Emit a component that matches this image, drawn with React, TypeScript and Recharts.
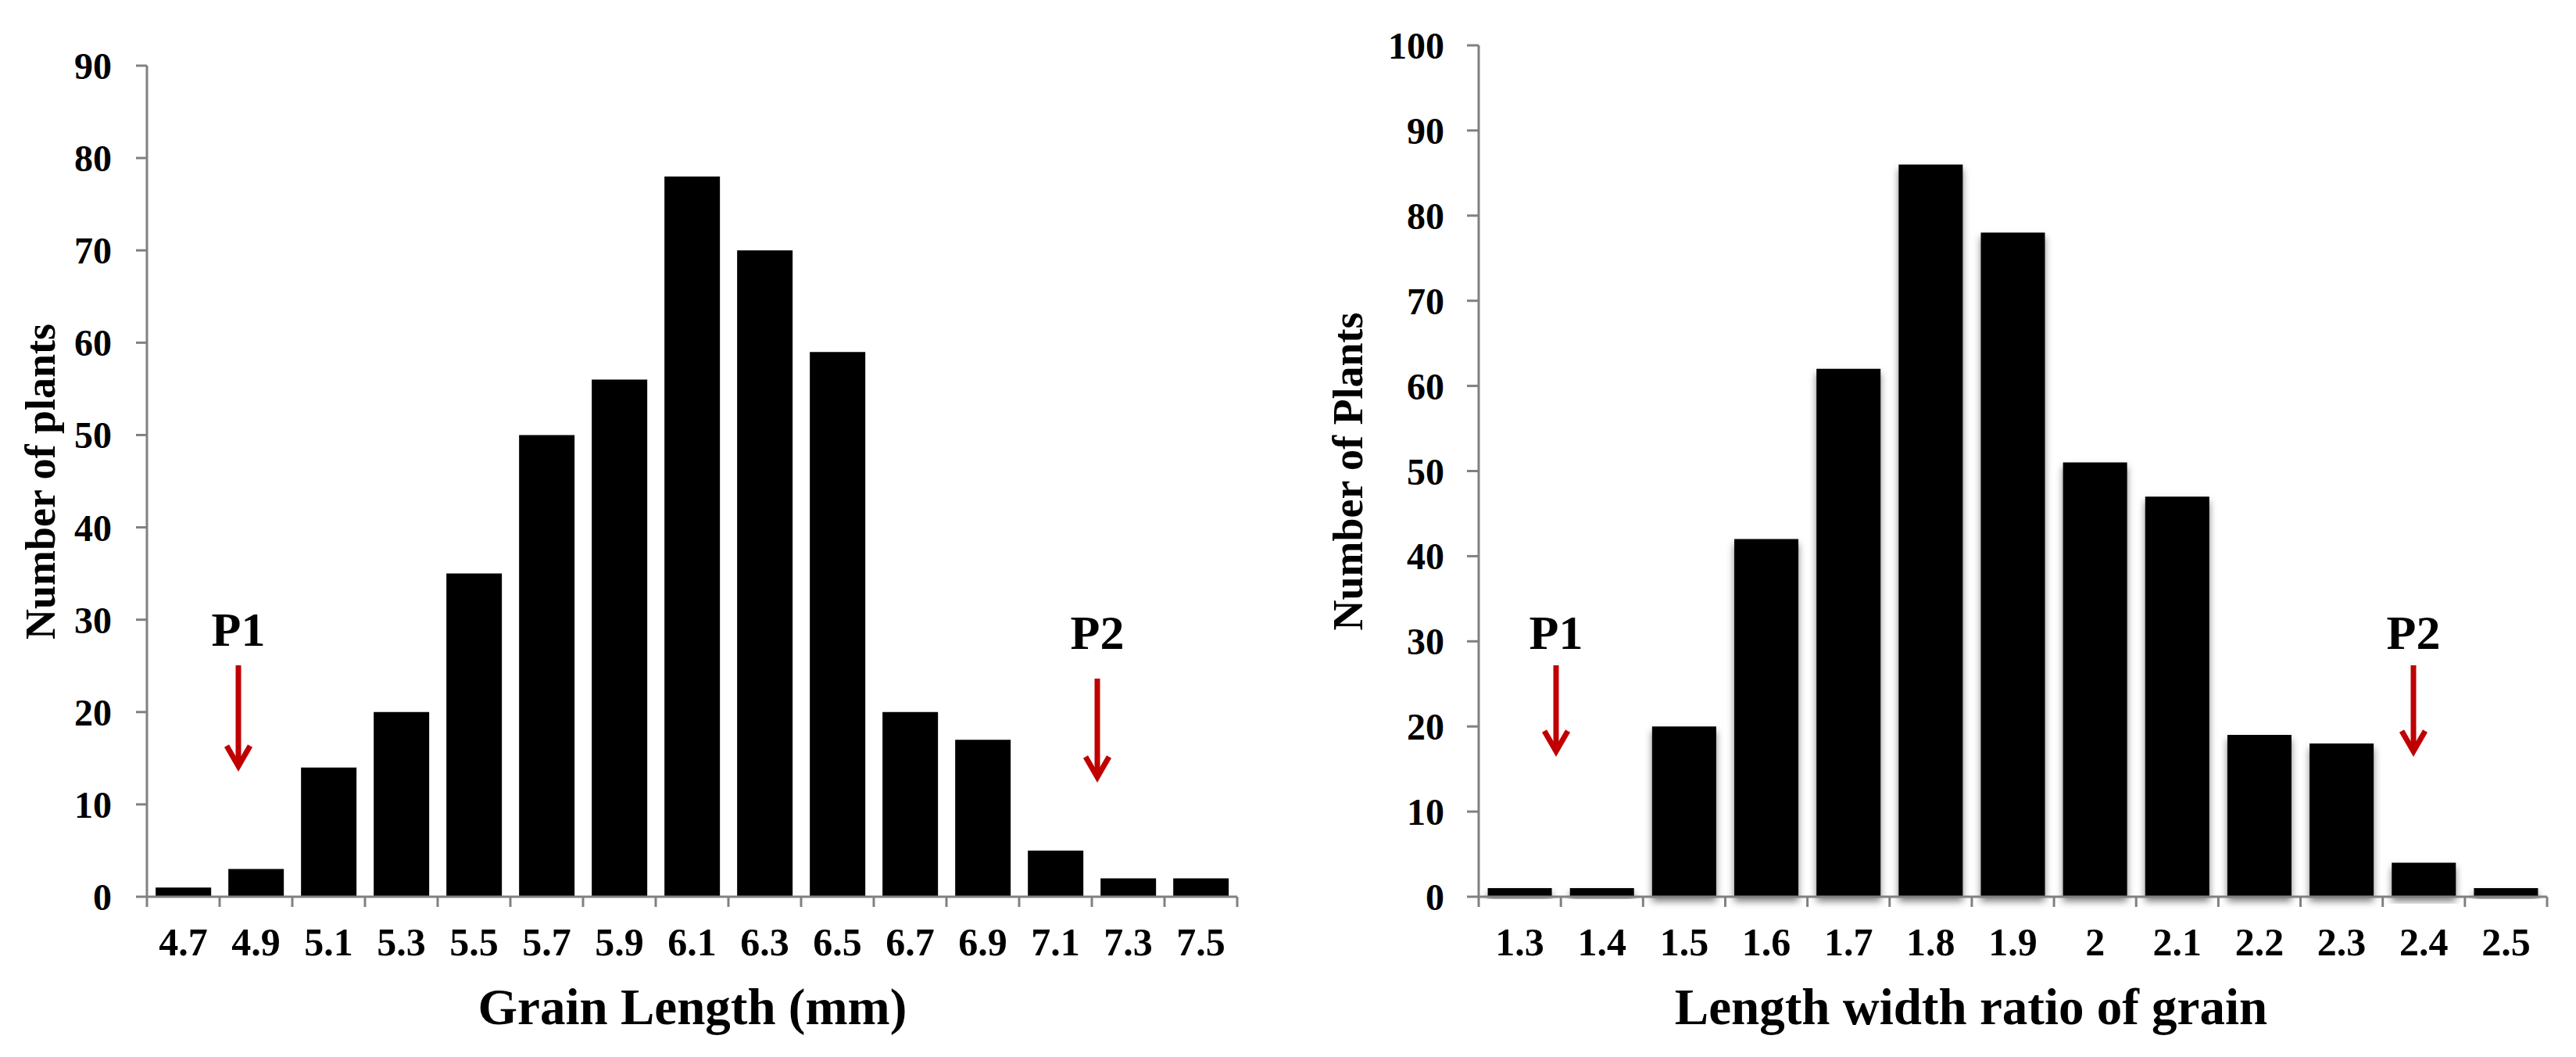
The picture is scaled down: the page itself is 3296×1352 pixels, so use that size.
import React from 'react';
import { BarChart, Bar, XAxis, YAxis } from 'recharts';

// Grain length distribution (mm)
const lengthCategories = ['4.7', '4.9', '5.1', '5.3', '5.5', '5.7', '5.9', '6.1', '6.3', '6.5', '6.7', '6.9', '7.1', '7.3', '7.5'];
const lengthCounts = [1, 3, 14, 20, 35, 50, 56, 78, 70, 59, 20, 17, 5, 2, 2];
const lengthYTicks = [0, 10, 20, 30, 40, 50, 60, 70, 80, 90];

// Length / width ratio distribution
const ratioCategories = ['1.3', '1.4', '1.5', '1.6', '1.7', '1.8', '1.9', '2', '2.1', '2.2', '2.3', '2.4', '2.5'];
const ratioCounts = [1, 1, 20, 42, 62, 86, 78, 51, 47, 19, 18, 4, 1];
const ratioYTicks = [0, 10, 20, 30, 40, 50, 60, 70, 80, 90, 100];

const lengthData = lengthCategories.map((c, i) => ({ category: c, count: lengthCounts[i] }));
const ratioData = ratioCategories.map((c, i) => ({ category: c, count: ratioCounts[i] }));

const FONT = '"Liberation Serif", "Times New Roman", serif';
const AXIS = '#808080';
const ARROW = '#C00000';

// Category tick: label at the band centre, tick marks on the band edges
const makeCategoryTick = (count: number) => (props: any) => {
  const { x, y, payload } = props;
  const half = payload && typeof payload.offset === 'number' ? payload.offset : 0;
  const isLast = payload.index === count - 1;
  return (
    <g>
      <line x1={x - half} x2={x - half} y1={y} y2={y + 13} stroke={AXIS} strokeWidth={3} />
      {isLast && <line x1={x + half} x2={x + half} y1={y} y2={y + 13} stroke={AXIS} strokeWidth={3} />}
      <text x={x} y={y + 75} textAnchor="middle" fill="#000" fontSize={50} fontFamily={FONT} fontWeight={700}>
        {payload.value}
      </text>
    </g>
  );
};

const yTickStyle = { fill: '#000', fontSize: 48, fontFamily: FONT, fontWeight: 700 };

const Arrow = ({ x, y1, y2 }: { x: number; y1: number; y2: number }) => (
  <g stroke={ARROW} strokeWidth={7} fill="none">
    <line x1={x} y1={y1} x2={x} y2={y2 - 4} />
    <polyline points={`${x - 15},${y2 - 26} ${x},${y2} ${x + 15},${y2 - 26}`} strokeLinejoin="miter" />
  </g>
);

const PLabel = ({ x, y, text }: { x: number; y: number; text: string }) => (
  <text x={x} y={y} textAnchor="middle" fontSize={62} fontFamily={FONT} fontWeight={700} fill="#000">
    {text}
  </text>
);

const titleStyle = { fontFamily: FONT, fontWeight: 700, fill: '#000' } as const;

export default function App() {
  return (
    <div style={{ position: 'fixed', left: 0, top: 0, width: 3296, height: 1352, background: '#fff' }}>
      <div style={{ position: 'absolute', left: 0, top: 0 }}>
        <BarChart
          width={1660}
          height={1352}
          data={lengthData}
          margin={{ top: 84, right: 77, left: 0, bottom: 145 }}
          barCategoryGap="12%"
        >
          <XAxis
            dataKey="category"
            height={60}
            interval={0}
            tickSize={0}
            tickMargin={0}
            tickLine={false}
            axisLine={{ stroke: AXIS, strokeWidth: 3 }}
            tick={makeCategoryTick(lengthCategories.length)}
          />
          <YAxis
            width={188}
            domain={[0, 90]}
            ticks={lengthYTicks}
            interval={0}
            tickSize={14}
            tickMargin={31}
            axisLine={{ stroke: AXIS, strokeWidth: 3 }}
            tickLine={{ stroke: AXIS, strokeWidth: 3 }}
            tick={yTickStyle}
          />
          <Bar dataKey="count" fill="#000" isAnimationActive={false} />
        </BarChart>
      </div>

      <div style={{ position: 'absolute', left: 1660, top: 0 }}>
        <BarChart
          width={1636}
          height={1352}
          data={ratioData}
          margin={{ top: 58, right: 37, left: 0, bottom: 145 }}
          barCategoryGap="11%"
        >
          <defs>
            <filter id="barShadow" x="-20%" y="-20%" width="140%" height="140%">
              <feDropShadow dx="0" dy="6" stdDeviation="5" floodColor="#000" floodOpacity="0.5" />
            </filter>
          </defs>
          <XAxis
            dataKey="category"
            height={60}
            interval={0}
            tickSize={0}
            tickMargin={0}
            tickLine={false}
            axisLine={{ stroke: AXIS, strokeWidth: 3 }}
            tick={makeCategoryTick(ratioCategories.length)}
          />
          <YAxis
            width={232}
            domain={[0, 100]}
            ticks={ratioYTicks}
            interval={0}
            tickSize={15}
            tickMargin={29}
            axisLine={{ stroke: AXIS, strokeWidth: 3 }}
            tickLine={{ stroke: AXIS, strokeWidth: 3 }}
            tick={yTickStyle}
          />
          <Bar dataKey="count" fill="#000" filter="url(#barShadow)" isAnimationActive={false} />
        </BarChart>
      </div>

      <svg
        width={3296}
        height={1352}
        style={{ position: 'absolute', left: 0, top: 0, pointerEvents: 'none' }}
      >
        {/* axis titles */}
        <text
          transform="translate(52, 616) rotate(-90)"
          textAnchor="middle"
          dominantBaseline="central"
          fontSize={54}
          {...titleStyle}
        >
          Number of plants
        </text>
        <text x={886} y={1310} textAnchor="middle" fontSize={65} {...titleStyle}>
          Grain Length (mm)
        </text>
        <text
          transform="translate(1725, 603) rotate(-90)"
          textAnchor="middle"
          dominantBaseline="central"
          fontSize={54}
          {...titleStyle}
        >
          Number of Plants
        </text>
        <text x={2522} y={1310} textAnchor="middle" fontSize={65} {...titleStyle}>
          Length width ratio of grain
        </text>

        {/* parent markers */}
        <PLabel x={305} y={826} text="P1" />
        <Arrow x={305} y1={851} y2={980} />
        <PLabel x={1404} y={830} text="P2" />
        <Arrow x={1404} y1={868} y2={994} />

        <PLabel x={1991} y={830} text="P1" />
        <Arrow x={1991} y1={851} y2={961} />
        <PLabel x={3088} y={830} text="P2" />
        <Arrow x={3088} y1={851} y2={961} />
      </svg>
    </div>
  );
}
